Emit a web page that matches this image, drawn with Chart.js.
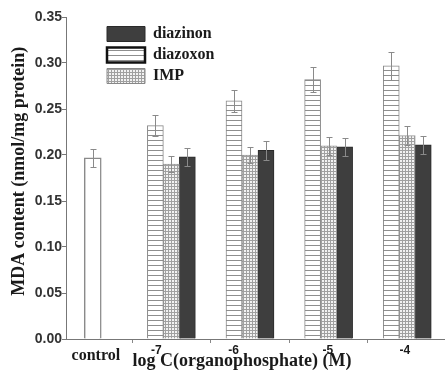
<!DOCTYPE html>
<html>
<head>
<meta charset="utf-8">
<script src="https://cdn.jsdelivr.net/npm/chart.js@4/dist/chart.umd.min.js"></script>
<style>
  body { margin: 0; background: #fff; }
</style>
</head>
<body>
<canvas id="myChart" width="445" height="374"></canvas>
<script>
// values
var groupLabels = ['control', '-7', '-6', '-5', '-4'];
var yTicks = [0, 0.05, 0.10, 0.15, 0.20, 0.25, 0.30, 0.35];

var control = [0.197];
var controlErr = [0.010];
var diazoxon = [0.232, 0.259, 0.282, 0.297];
var diazoxonErr = [0.011, 0.012, 0.014, 0.015];
var imp = [0.190, 0.200, 0.210, 0.221];
var impErr = [0.009, 0.009, 0.010, 0.010];
var diazinon = [0.198, 0.205, 0.209, 0.211];
var diazinonErr = [0.010, 0.010, 0.010, 0.010];

// label nudges (in category units), the -7 / -6 labels sit left of their groups
var labelNudge = [0.04, -0.19, -0.21, -0.01, -0.03];
var legendOrder = ['diazinon', 'diazoxon', 'IMP'];

var canvas = document.getElementById('myChart');
var ctx = canvas.getContext('2d');

// hatch fills
function tile(w, h, paint) {
    var c = document.createElement('canvas');
    c.width = w; c.height = h;
    paint(c.getContext('2d'));
    return ctx.createPattern(c, 'repeat');
}
var stripes = tile(5, 5, function(g) {
    g.fillStyle = '#fff'; g.fillRect(0, 0, 5, 5);
    g.fillStyle = '#8e8e8e'; g.fillRect(0, 0, 5, 1);
});
var grid = tile(3, 3, function(g) {
    g.fillStyle = '#f2f2f2'; g.fillRect(0, 0, 3, 3);
    g.fillStyle = '#a0a0a0'; g.fillRect(0, 0, 3, 1); g.fillRect(0, 0, 1, 3);
});

function pts(vals, start) {
    return vals.map(function(v, i) { return {x: start + i, y: v}; });
}

var errorBars = {
    id: 'errorBars',
    afterDatasetsDraw: function(chart) {
        var c = chart.ctx, y = chart.scales.y;
        c.save();
        c.strokeStyle = '#8a8a8a';
        c.lineWidth = 1;
        chart.data.datasets.forEach(function(ds, di) {
            chart.getDatasetMeta(di).data.forEach(function(bar, i) {
                var v = ds.data[i].y, e = ds.errors[i];
                var x = Math.round(bar.x) + 0.5;
                var t = Math.round(y.getPixelForValue(v + e)) + 0.5;
                var b = Math.round(y.getPixelForValue(v - e)) + 0.5;
                c.beginPath();
                c.moveTo(x, t); c.lineTo(x, b);
                c.moveTo(x - 3, t); c.lineTo(x + 3, t);
                c.moveTo(x - 3, b); c.lineTo(x + 3, b);
                c.stroke();
            });
        });
        c.restore();
    }
};

// legend sits inside the plot, a bit in from the y axis
var legendSpot = {
    id: 'legendSpot',
    afterLayout: function(chart) {
        chart.legend.left += 36;
        chart.legend.top += 21;
    }
};

var chart = new Chart(ctx, {
    type: 'bar',
    data: {
        datasets: [{
            label: 'control',
            data: pts(control, 0),
            errors: controlErr,
            backgroundColor: '#fff',
            borderColor: '#8a8a8a',
            borderWidth: 1.5,
            barThickness: 17
        }, {
            label: 'diazoxon',
            data: pts(diazoxon, 1),
            errors: diazoxonErr,
            backgroundColor: stripes,
            borderColor: '#888',
            borderWidth: 1
        }, {
            label: 'IMP',
            data: pts(imp, 1),
            errors: impErr,
            backgroundColor: grid,
            borderColor: '#999',
            borderWidth: 1
        }, {
            label: 'diazinon',
            data: pts(diazinon, 1),
            errors: diazinonErr,
            backgroundColor: '#3e3e3e',
            borderColor: '#2a2a2a',
            borderWidth: 1
        }]
    },
    options: {
        responsive: false,
        animation: false,
        devicePixelRatio: 1,
        layout: {padding: {top: 17, right: 0, bottom: 0, left: 0}},
        datasets: {bar: {skipNull: true, barThickness: 16}},
        plugins: {
            tooltip: {enabled: false},
            legend: {
                position: 'chartArea',
                align: 'start',
                labels: {
                    boxWidth: 38,
                    boxHeight: 15,
                    padding: 5,
                    color: '#1a1a1a',
                    font: {family: 'Liberation Serif', weight: 'bold', size: 16},
                    filter: function(item) { return item.text !== 'control'; },
                    sort: function(a, b) { return legendOrder.indexOf(a.text) - legendOrder.indexOf(b.text); },
                    generateLabels: function(ch) {
                        var items = Chart.defaults.plugins.legend.labels.generateLabels(ch);
                        items.forEach(function(it) {
                            if (it.text === 'diazoxon') { it.lineWidth = 2.5; it.strokeStyle = '#111'; }
                            if (it.text === 'IMP') { it.strokeStyle = '#888'; }
                        });
                        return items;
                    }
                }
            }
        },
        scales: {
            x: {
                type: 'linear',
                offset: false,
                min: -0.34,
                max: 4.48,
                afterBuildTicks: function(s) {
                    s.ticks = groupLabels.slice(1).map(function(_, i) { return {value: i + 0.5}; });
                },
                ticks: {display: false},
                grid: {offset: false, drawOnChartArea: false, tickLength: 4, color: '#888'},
                border: {color: '#777'},
                afterFit: function(s) { s.height = 4; }
            },
            xl: {
                type: 'linear',
                position: 'bottom',
                offset: false,
                weight: 1,
                min: -0.34,
                max: 4.48,
                afterBuildTicks: function(s) {
                    s.ticks = groupLabels.map(function(_, i) { return {value: i + labelNudge[i]}; });
                },
                ticks: {
                    autoSkip: false,
                    maxRotation: 0,
                    padding: 2,
                    color: '#1a1a1a',
                    callback: function(v, i) { return groupLabels[i]; },
                    font: function(c) {
                        return c.index === 0
                            ? {family: 'Liberation Serif', weight: 'bold', size: 16, lineHeight: 1.4}
                            : {family: 'Liberation Sans', weight: 'bold', size: 12, lineHeight: 1};
                    }
                },
                grid: {offset: false, display: false, drawTicks: false},
                border: {display: false},
                title: {
                    display: true,
                    text: 'log C(organophosphate) (M)      ',
                    color: '#1a1a1a',
                    font: {family: 'Liberation Serif', weight: 'bold', size: 18, lineHeight: 1},
                    padding: {top: 0, bottom: 4}
                },
                afterFit: function(s) { s.height = 31; }
            },
            y: {
                min: 0,
                max: 0.35,
                afterBuildTicks: function(s) {
                    s.ticks = yTicks.map(function(v) { return {value: v}; });
                },
                ticks: {
                    padding: 0,
                    color: '#333',
                    font: {family: 'Liberation Sans', weight: 'bold', size: 14},
                    callback: function(v) { return v.toFixed(2); }
                },
                grid: {drawOnChartArea: false, tickLength: 4, color: '#777'},
                border: {color: '#777'},
                title: {
                    display: true,
                    text: '   MDA content (nmol/mg protein)',
                    color: '#1a1a1a',
                    font: {family: 'Liberation Serif', weight: 'bold', size: 18, lineHeight: 1},
                    padding: {top: 10, bottom: 0}
                },
                afterFit: function(s) { s.width = 66; }
            }
        }
    },
    plugins: [errorBars, legendSpot]
});
</script>
</body>
</html>
